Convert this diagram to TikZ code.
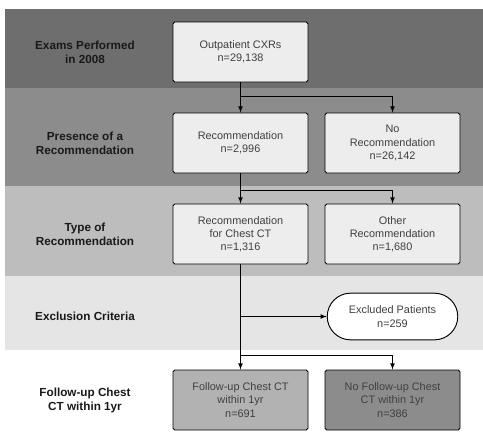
\documentclass[tikz,border=0pt]{standalone}
\usepackage{fontspec}
\setmainfont{Liberation Sans}
\usetikzlibrary{shapes.misc}
\usetikzlibrary{math}
\definecolor{bandA}{gray}{0.43}
\definecolor{bandB}{gray}{0.55}
\definecolor{bandC}{gray}{0.74}
\definecolor{bandD}{gray}{0.90}
\definecolor{boxfill}{gray}{0.93}
\definecolor{fupfill}{gray}{0.70}
\definecolor{nofupfill}{gray}{0.55}
\tikzset{stagebox/.style={draw=black, thick, fill=boxfill, rounded corners=1.5pt, minimum width=4.05cm, minimum height=1.8cm, align=center, font=\fontsize{9.3}{11.3}\selectfont, text=black!75},
	rowlabel/.style={align=center, font=\fontsize{10}{12}\selectfont\bfseries, text=black!90},
	flow/.style={thick, -latex}}

\begin{document}
\begin{tikzpicture}[x=0.03cm,y=-0.03cm]
	\tikzmath{\colL=240.5; \colR=392.5; \labx=85;
	\yA=52; \yB=143; \yC=234; \yD=316.5; \yE=400;}
	\useasboundingbox (0,0) rectangle (483,434);
	% bands
	\fill[bandA] (5,9) rectangle (483,88);
	\fill[bandB] (5,88) rectangle (483,186);
	\fill[bandC] (5,186) rectangle (483,276);
	\fill[bandD] (5,276) rectangle (483,350);

	% row labels
	\node[rowlabel] (lA) at (\labx, \yA) {Exams Performed\\in 2008};
	\node[rowlabel] (lB) at (\labx, \yB) {Presence of a\\Recommendation};
	\node[rowlabel] (lC) at (\labx, \yC) {Type of\\Recommendation};
	\node[rowlabel] (lD) at (\labx, \yD) {Exclusion Criteria};
	\node[rowlabel] (lE) at (\labx, \yE) {Follow-up Chest\\CT within 1yr};

	% boxes
	\node[stagebox] (cxr) at (\colL, \yA) {Outpatient CXRs\\n=29,138};
	\node[stagebox] (rec) at (\colL, \yB) {Recommendation\\n=2,996};
	\node[stagebox] (norec) at (\colR, \yB) {No\\Recommendation\\n=26,142};
	\node[stagebox] (recct) at (\colL, \yC) {Recommendation\\for Chest CT\\n=1,316};
	\node[stagebox] (other) at (\colR, \yC) {Other\\Recommendation\\n=1,680};
	\node[draw=black, thick, fill=white, rounded rectangle, minimum width=4.15cm, minimum height=1.4cm, align=center, font=\fontsize{9.3}{11.3}\selectfont, text=black!75] (excl) at (\colR, \yD) {Excluded Patients\\n=259};
	\node[stagebox, fill=fupfill] (fup) at (\colL, \yE) {Follow-up Chest CT\\within 1yr\\n=691};
	\node[stagebox, fill=nofupfill] (nofup) at (\colR, \yE) {No Follow-up Chest\\CT within 1yr\\n=386};

	% connectors
	\coordinate (sA) at (\colL, 96);
	\coordinate (sC) at (\colL, 190);
	\coordinate (sD) at (\colL, \yD);
	\coordinate (sE) at (\colL, 355);
	\draw[flow] (cxr.south) -- (rec.north);
	\draw[flow] (sA) -| (norec.north);
	\draw[flow] (rec.south) -- (recct.north);
	\draw[flow] (sC) -| (other.north);
	\draw[flow] (recct.south) -- (fup.north);
	\draw[flow] (sD) -- (excl.west);
	\draw[flow] (sE) -| (nofup.north);
\end{tikzpicture}
\end{document}
